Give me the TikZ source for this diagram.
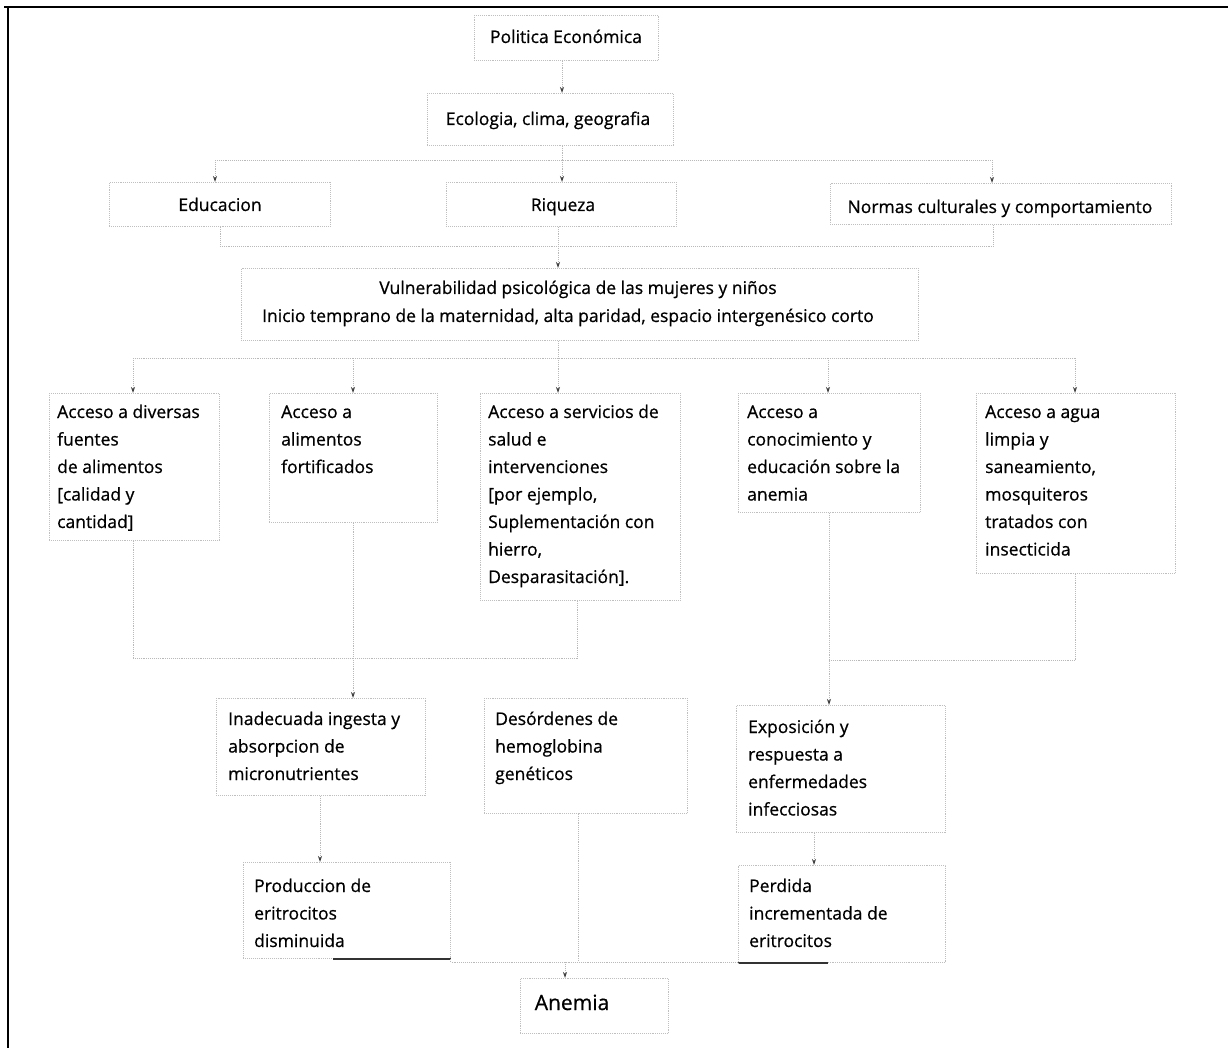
\documentclass[tikz,border=0pt]{standalone}
\usepackage{fontspec}
\setmainfont{Open Sans}[FakeBold=0.7]
\usetikzlibrary{arrows.meta}
\tikzset{
  box/.style={draw=gray!50, densely dotted, line width=0.9pt, inner sep=0pt, anchor=north west},
  conn/.style={draw=gray!55, densely dotted, line width=0.9pt},
  arr/.style={conn, -{Stealth[length=6pt,width=4pt,black!75]}},
  txt/.style={inner sep=0pt, anchor=base west, align=left, font=\fontsize{17.5}{27.5}\selectfont, text=black},
  ctxt/.style={inner sep=0pt, anchor=base, align=center, font=\fontsize{17.5}{28}\selectfont, text=black},
  frame/.style={draw=black, line width=1.3pt},
  solidedge/.style={draw=black!80, line width=1.2pt}
}
\begin{document}
\begin{tikzpicture}[x=1pt,y=-1pt]
\useasboundingbox (0,0) rectangle (1228,1048);
% outer frame
\draw[frame] (4,7) -- (1228,7);
\draw[frame] (8,7) -- (8,1048);

% boxes (multi-line texts are placed by the baseline of their last line)
\node[box, minimum width=184, minimum height=45] (PE) at (474,15) {};
\node[ctxt] (PEt) at (566,43) {Politica Económica};

\node[box, minimum width=246, minimum height=52] (Eco) at (427,93) {};
\node[ctxt] (Ecot) at (548,125) {Ecologia, clima, geografia};

\node[box, minimum width=221, minimum height=44] (Edu) at (109,182) {};
\node[ctxt] (Edut) at (220,211) {Educacion};

\node[box, minimum width=230, minimum height=44] (Riq) at (446,182) {};
\node[ctxt] (Riqt) at (563,211) {Riqueza};

\node[box, minimum width=341, minimum height=41] (Nor) at (830,183) {};
\node[ctxt] (Nort) at (1000,213) {Normas culturales y comportamiento};

\node[box, minimum width=677, minimum height=72] (Vul) at (241,268) {};
\node[ctxt] (Vult) at (568,322) {\hspace*{20pt}Vulnerabilidad psicológica de las mujeres y niños\\Inicio temprano de la maternidad, alta paridad, espacio intergenésico corto};

\node[box, minimum width=170, minimum height=147] (A) at (49,393) {};
\node[txt] (At) at (57,528) {Acceso a diversas\\fuentes\\de alimentos\\{[}calidad y\\cantidad{]}};

\node[box, minimum width=168, minimum height=129] (B) at (269,393) {};
\node[txt] (Bt) at (281,473) {Acceso a\\alimentos\\fortificados};

\node[box, minimum width=200, minimum height=207] (C) at (480,393) {};
\node[txt] (Ct) at (488,583) {Acceso a servicios de\\salud e\\intervenciones\\{[}por ejemplo,\\Suplementación con\\hierro,\\Desparasitación{]}.};

\node[box, minimum width=182, minimum height=119] (D) at (738,393) {};
\node[txt] (Dt) at (747,500.5) {Acceso a\\conocimiento y\\educación sobre la\\anemia};

\node[box, minimum width=199, minimum height=180] (E) at (976,393) {};
\node[txt] (Et) at (985,555.5) {Acceso a agua\\limpia y\\saneamiento,\\mosquiteros\\tratados con\\insecticida};

\node[box, minimum width=209, minimum height=97] (In) at (216,698) {};
\node[txt] (Int) at (228,780) {Inadecuada ingesta y\\absorpcion de\\micronutrientes};

\node[box, minimum width=203, minimum height=115] (De) at (484,698) {};
\node[txt] (Det) at (495,780) {Desórdenes de\\hemoglobina\\genéticos};

\node[box, minimum width=209, minimum height=127] (Ex) at (736,705) {};
\node[txt] (Ext) at (748,815.5) {Exposición y\\respuesta a\\enfermedades\\infecciosas};

\node[box, minimum width=207, minimum height=96] (Pr) at (243,862) {};
\node[txt] (Prt) at (254,947) {Produccion de\\eritrocitos\\disminuida};

\node[box, minimum width=207, minimum height=97] (Pe) at (738,865) {};
\node[txt] (Pet) at (749,947) {Perdida\\incrementada de\\eritrocitos};

\node[box, minimum width=148, minimum height=55] (An) at (520,978) {};
\node[ctxt, font=\fontsize{21}{24}\selectfont] (Ant) at (572,1010) {Anemia};

% solid pieces of the lower box edges
\draw[solidedge] ([xshift=-118pt]Pr.south east) -- (Pr.south east);
\draw[solidedge] (Pe.south west) -- ([xshift=90pt]Pe.south west);

% connectors
\draw[arr] (PE.south -| 562,0) -- (Eco.north -| 562,0);

\coordinate (b1) at (562,160);
\draw[conn] (Eco.south -| b1) -- (b1);
\draw[conn] (215,160) -- (992,160);
\draw[arr] (b1) -- (Riq.north -| b1);
\draw[arr] (215,160) -- (Edu.north -| 215,0);
\draw[arr] (992,160) -- (Nor.north -| 992,0);

\coordinate (b2) at (558,246);
\draw[conn] (Edu.south) -- (Edu.south |- b2);
\draw[conn] (Nor.south -| 993,0) -- (993,246);
\draw[conn] (Edu.south |- b2) -- (993,246);
\draw[arr] (Riq.south -| b2) -- (Vul.north -| b2);

\coordinate (b3) at (558,358);
\draw[conn] (Vul.south -| b3) -- (b3);
\draw[conn] (133,358) -- (1075,358);
\draw[arr] (133,358) -- (A.north -| 133,0);
\draw[arr] (353,358) -- (B.north -| 353,0);
\draw[arr] (b3) -- (C.north -| b3);
\draw[arr] (828,358) -- (D.north -| 828,0);
\draw[arr] (1075,358) -- (E.north -| 1075,0);

\draw[conn] (A.south -| 133,0) -- (133,658);
\draw[conn] (B.south -| 353,0) -- (353,658);
\draw[conn] (C.south -| 577,0) -- (577,658);
\draw[conn] (133,658) -- (577,658);
\draw[arr] (353,658) -- (In.north -| 353,0);

\draw[conn] (E.south -| 1075,0) -- (1075,660);
\draw[conn] (829,660) -- (1075,660);
\draw[arr] (D.south -| 829,0) -- (Ex.north -| 829,0);

\draw[arr] (In.south -| 320,0) -- (Pr.north -| 320,0);
\draw[arr] (Ex.south -| 814,0) -- (Pe.north -| 814,0);

\coordinate (b4) at (565,962);
\draw[conn] (De.south -| 578,0) -- (578,962);
\draw[conn] (Pr.south east) -- (Pr.south east |- b4) -- (Pe.south west |- b4) -- (Pe.south west);
\draw[arr] (b4) -- (An.north -| b4);
\end{tikzpicture}
\end{document}
